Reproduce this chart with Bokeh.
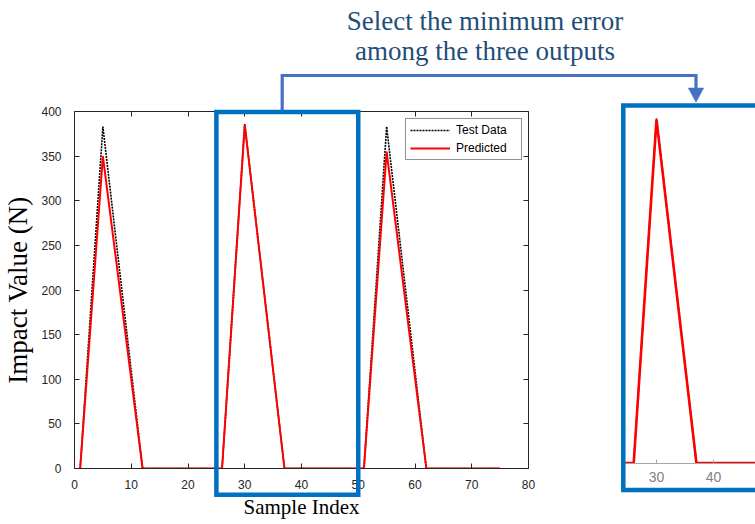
from bokeh.plotting import figure
from bokeh.models import (Range1d, LinearAxis, SingleIntervalTicker, Legend, LegendItem,
                          ColumnDataSource)
from bokeh.core.properties import value
from bokeh.embed import file_html
from bokeh.resources import INLINE

# ---------------- data ----------------
sample_index = [1, 5, 12, 25, 26, 30, 37, 50, 51, 55, 62, 75]
test_data = [0, 383, 0, 0, 0, 386, 0, 0, 0, 383, 0, 0]
predicted = [0, 350, 0, 0, 0, 385, 0, 0, 0, 355, 0, 0]
highlight_window = [25, 50]           # samples selected by the blue box
x_label = "Sample Index"
y_label = "Impact Value (N)"
title_lines = ["Select the minimum error", "among the three outputs"]
legend_labels = ["Test Data", "Predicted"]

# ---------------- layout constants (page pixels) ----------------
W, H = 755, 524
AX = "#262626"
BOX_BLUE = "#0070C0"
ARROW_BLUE = "#4472C4"
TITLE_COLOR = "#1F4E79"
ABS = {"position": "absolute", "left": "0px", "top": "0px"}

F_L, F_R, F_T, F_B = 74, 528, 111, 468          # main frame
XS = (F_R - F_L) / 80.0
YS = (F_B - F_T) / 400.0


def x1(px):  # page px -> main data coordinates
    return (px - F_L) / XS


def y1(py):
    return (F_B - py) / YS


# inset frame
I_L, I_T, I_B = 624, 107, 463
I_XS, I_YS = 5.7, 0.892
I_X0 = 30 - (656 - I_L) / I_XS
I_X1 = 30 + (W - 656) / I_XS
I_Y0 = -0.6
I_Y1 = I_Y0 + (I_B - I_T) / I_YS

src = ColumnDataSource(dict(x=sample_index, t=test_data, p=predicted))


def style_axis(ax, show_labels=True, color=AX, size="12px"):
    ax.axis_line_color = color
    ax.axis_line_width = 1
    ax.major_tick_line_color = color
    ax.major_tick_in = 5
    ax.major_tick_out = 0
    ax.minor_tick_line_color = None
    ax.major_label_text_font = "Liberation Sans"
    ax.major_label_text_font_size = size
    ax.major_label_text_color = color if show_labels else None


# ---------------- main figure (bottom layer) ----------------
p = figure(width=W, height=H, output_backend="svg", toolbar_location=None,
           x_range=Range1d(0, 80), y_range=Range1d(0, 400),
           x_axis_location=None, y_axis_location=None,
           min_border_left=F_L, min_border_right=W - F_R,
           min_border_top=F_T, min_border_bottom=H - F_B, styles=dict(ABS))
p.title.visible = False
p.grid.visible = False
p.outline_line_color = None
p.background_fill_color = "white"
p.border_fill_color = "white"

xt = SingleIntervalTicker(interval=10, num_minor_ticks=0)
yt = SingleIntervalTicker(interval=50, num_minor_ticks=0)

xb = LinearAxis(ticker=xt, axis_label=x_label)
style_axis(xb)
xb.major_label_standoff = 11
xb.axis_label_standoff = 3
xb.axis_label_text_font = "Liberation Serif"
xb.axis_label_text_font_size = "21px"
xb.axis_label_text_font_style = "normal"
xb.axis_label_text_color = "black"
p.add_layout(xb, "below")

yl = LinearAxis(ticker=yt, axis_label=y_label)
style_axis(yl)
yl.major_label_standoff = 13
yl.axis_label_standoff = 5
yl.axis_label_text_font = "Liberation Serif"
yl.axis_label_text_font_size = "27px"
yl.axis_label_text_font_style = "normal"
yl.axis_label_text_color = "black"
p.add_layout(yl, "left")

xa = LinearAxis(ticker=xt)
style_axis(xa, False)
p.add_layout(xa, "above")
yr = LinearAxis(ticker=yt)
style_axis(yr, False)
p.add_layout(yr, "right")

r_test = p.line("x", "t", source=src, line_color="black", line_width=1.6, line_dash="2 1")
r_pred = p.line("x", "p", source=src, line_color="#FF0000", line_width=2)

legend = Legend(items=[LegendItem(label=legend_labels[0], renderers=[r_test]),
                       LegendItem(label=legend_labels[1], renderers=[r_pred])],
                location=(405 - F_L, F_B - 160),
                orientation="vertical", margin=0, padding=4, spacing=4,
                glyph_width=40, glyph_height=14, label_height=14, label_width=61,
                label_standoff=6, border_line_color=AX, border_line_width=1,
                background_fill_color="white", background_fill_alpha=1,
                label_text_font="Liberation Sans", label_text_font_size="12px",
                label_text_color="black")
p.add_layout(legend)

# ---------------- inset figure (middle layer) ----------------
q = figure(width=W, height=H, output_backend="svg", toolbar_location=None,
           x_range=Range1d(I_X0, I_X1), y_range=Range1d(I_Y0, I_Y1),
           x_axis_location=None, y_axis_location=None,
           min_border_left=I_L, min_border_right=0,
           min_border_top=I_T, min_border_bottom=H - I_B, styles=dict(ABS))
q.title.visible = False
q.grid.visible = False
q.outline_line_color = None
q.background_fill_alpha = 0
q.border_fill_alpha = 0

qx = LinearAxis(ticker=SingleIntervalTicker(interval=10, num_minor_ticks=0))
style_axis(qx, True, "#a6a6a6", "14px")
qx.major_tick_in = 4
qx.major_label_text_color = "#7f7f7f"
qx.major_label_standoff = 8
q.add_layout(qx, "below")

q.line("x", "t", source=src, line_color="black", line_width=1.6, line_dash="2 1")
q.line("x", "p", source=src, line_color="#FF0000", line_width=2.6)

# ---------------- decoration figure (top layer) ----------------
d = figure(width=W, height=H, output_backend="svg", toolbar_location=None,
           x_range=Range1d(x1(0), x1(W)), y_range=Range1d(y1(H), y1(0)),
           x_axis_location=None, y_axis_location=None, min_border=0, styles=dict(ABS))
d.title.visible = False
d.grid.visible = False
d.outline_line_color = None
d.background_fill_alpha = 0
d.border_fill_alpha = 0

# highlight box around samples 25..50 and the zoomed box
d.quad(left=[highlight_window[0], x1(622.8)], right=[highlight_window[1], x1(W + 20)],
       top=[y1(111.5), y1(105)], bottom=[y1(494.3), y1(489.5)],
       fill_color=None, line_color=BOX_BLUE, line_width=4.5, line_join="miter")
# connector
d.line(x=[x1(281.7), x1(281.7), x1(695.5), x1(695.5)],
       y=[y1(110), y1(75), y1(75), y1(90)],
       line_color=ARROW_BLUE, line_width=3.2, line_join="miter")
d.patch(x=[x1(687.8), x1(703.2), x1(695.5)], y=[y1(87.5), y1(87.5), y1(101.8)],
        fill_color=ARROW_BLUE, line_color=ARROW_BLUE, line_width=0.5)
# title
d.text(x=[x1(484.5), x1(484.5)], y=[y1(20), y1(50)], text=title_lines,
       text_font=value("Liberation Serif"), text_font_size=value("27px"),
       text_align="center", text_baseline="alphabetic", text_color=TITLE_COLOR)

open("out.html", "w").write(file_html([p, q, d], INLINE))
